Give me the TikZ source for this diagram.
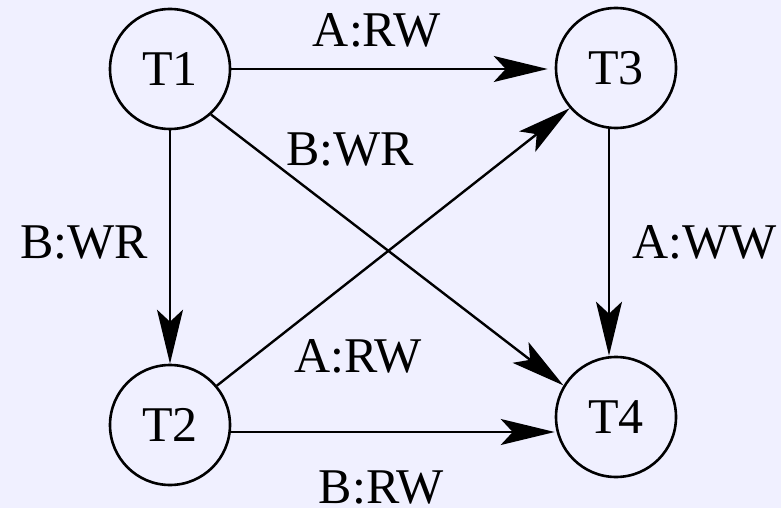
\documentclass[tikz,border=0pt]{standalone}
\usepackage{fontspec}
\setmainfont{Liberation Serif}
\usetikzlibrary{arrows.meta,positioning}
\definecolor{bgcol}{RGB}{240,240,255}

\begin{document}
\begin{tikzpicture}[x=1pt,y=-1pt,
  font=\fontsize{50}{60}\selectfont,
  txn/.style={circle,draw,line width=2.6pt,minimum size=120pt,inner sep=0pt},
  dep/.style={-{Stealth[length=54pt,width=26pt,inset=12pt]},line width=2.4pt},
  lbl/.style={inner sep=0pt}]
  \fill[bgcol] (0,0) rectangle (781,508);
  \useasboundingbox (0,0) rectangle (781,508);

  \node[txn] (T1) at (170,69) {T1};
  \node[txn] (T3) at (616,68) {T3};
  \node[txn] (T2) at (170,425) {T2};
  \node[txn] (T4) at (616,417) {T4};

  \draw[dep,shorten >=7pt] (T1.east) -- (T1.east -| T3.west)
    node[lbl,pos=0.45,above=21pt] {A:RW};
  \draw[dep] (T1.south) -- (T1.south |- T2.north)
    node[lbl,pos=0.48,left=21pt] {B:WR};
  \draw[dep] (T1.-48) -- (T4.149)
    node[lbl,pos=0.21,anchor=south west,yshift=4pt] {B:WR};
  \draw[dep] (T2.40) -- (T3.221)
    node[lbl,pos=0.215,anchor=north west,yshift=-12pt] {A:RW};
  \draw[dep] ([xshift=-7pt]T3.south) -- ([xshift=-7pt]T3.south |- T4.north)
    node[lbl,pos=0.5,right=22pt] {A:WW};
  \draw[dep] ([yshift=-7pt]T2.east) -- ([yshift=-7pt]T2.east -| T4.west)
    node[lbl,pos=0.464,below=38pt] {B:RW};
\end{tikzpicture}
\end{document}
